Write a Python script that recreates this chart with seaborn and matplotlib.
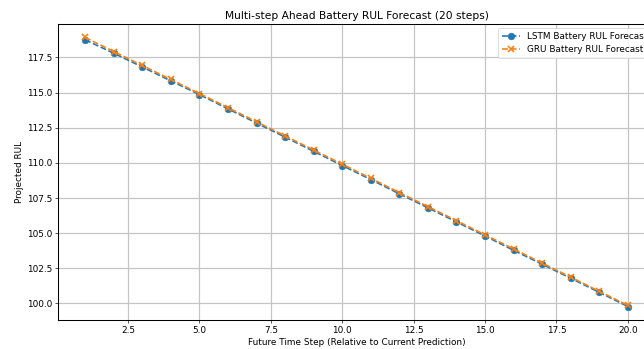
import matplotlib
matplotlib.use("Agg")
import matplotlib.pyplot as plt
import seaborn as sns

steps = list(range(1, 21))
lstm_rul = [118.75, 117.80, 116.82, 115.83, 114.86, 113.84, 112.83, 111.83, 110.82, 109.81,
            108.81, 107.80, 106.80, 105.80, 104.80, 103.78, 102.79, 101.79, 100.79, 99.78]
gru_rul = [118.92, 117.92, 116.93, 115.93, 114.93, 113.93, 112.92, 111.92, 110.91, 109.91,
           108.90, 107.89, 106.89, 105.89, 104.88, 103.88, 102.87, 101.87, 100.86, 99.86]
lstm_label = "LSTM Battery RUL Forecast"
gru_label = "GRU Battery RUL Forecast"
title = "Multi-step Ahead Battery RUL Forecast (20 steps)"
xlabel = "Future Time Step (Relative to Current Prediction)"
ylabel = "Projected RUL"

dpi = 58
plt.rcParams.update({
    "font.size": 11,
    "axes.titlesize": 13.2,
    "axes.labelsize": 11,
    "xtick.labelsize": 11,
    "ytick.labelsize": 11,
    "legend.fontsize": 11,
    "axes.linewidth": 1.3,
    "grid.linewidth": 1.5,
    "grid.color": "#c4c4c4",
})
fig = plt.figure(figsize=(644 / dpi, 349 / dpi), dpi=dpi)
ax = fig.add_axes([58 / 644, 1 - 320 / 349, (655 - 58) / 644, (320 - 24) / 349])

sns.lineplot(x=steps, y=lstm_rul, marker="o", linestyle="--", color="tab:blue", ax=ax,
             markeredgecolor="tab:blue", markeredgewidth=0.5, markersize=8.5,
             linewidth=2.0, legend=False)
sns.lineplot(x=steps, y=gru_rul, marker="x", linestyle="--", color="tab:orange", ax=ax,
             markeredgecolor="tab:orange", markeredgewidth=2, markersize=8,
             linewidth=2.0, legend=False)

ax.set_title(title)
ax.set_xlabel(xlabel)
ax.set_ylabel(ylabel)
ax.grid(True)
ax.legend(handles=ax.lines[:2], labels=[lstm_label, gru_label], loc="upper right")

fig.savefig("out.png", dpi=dpi)
